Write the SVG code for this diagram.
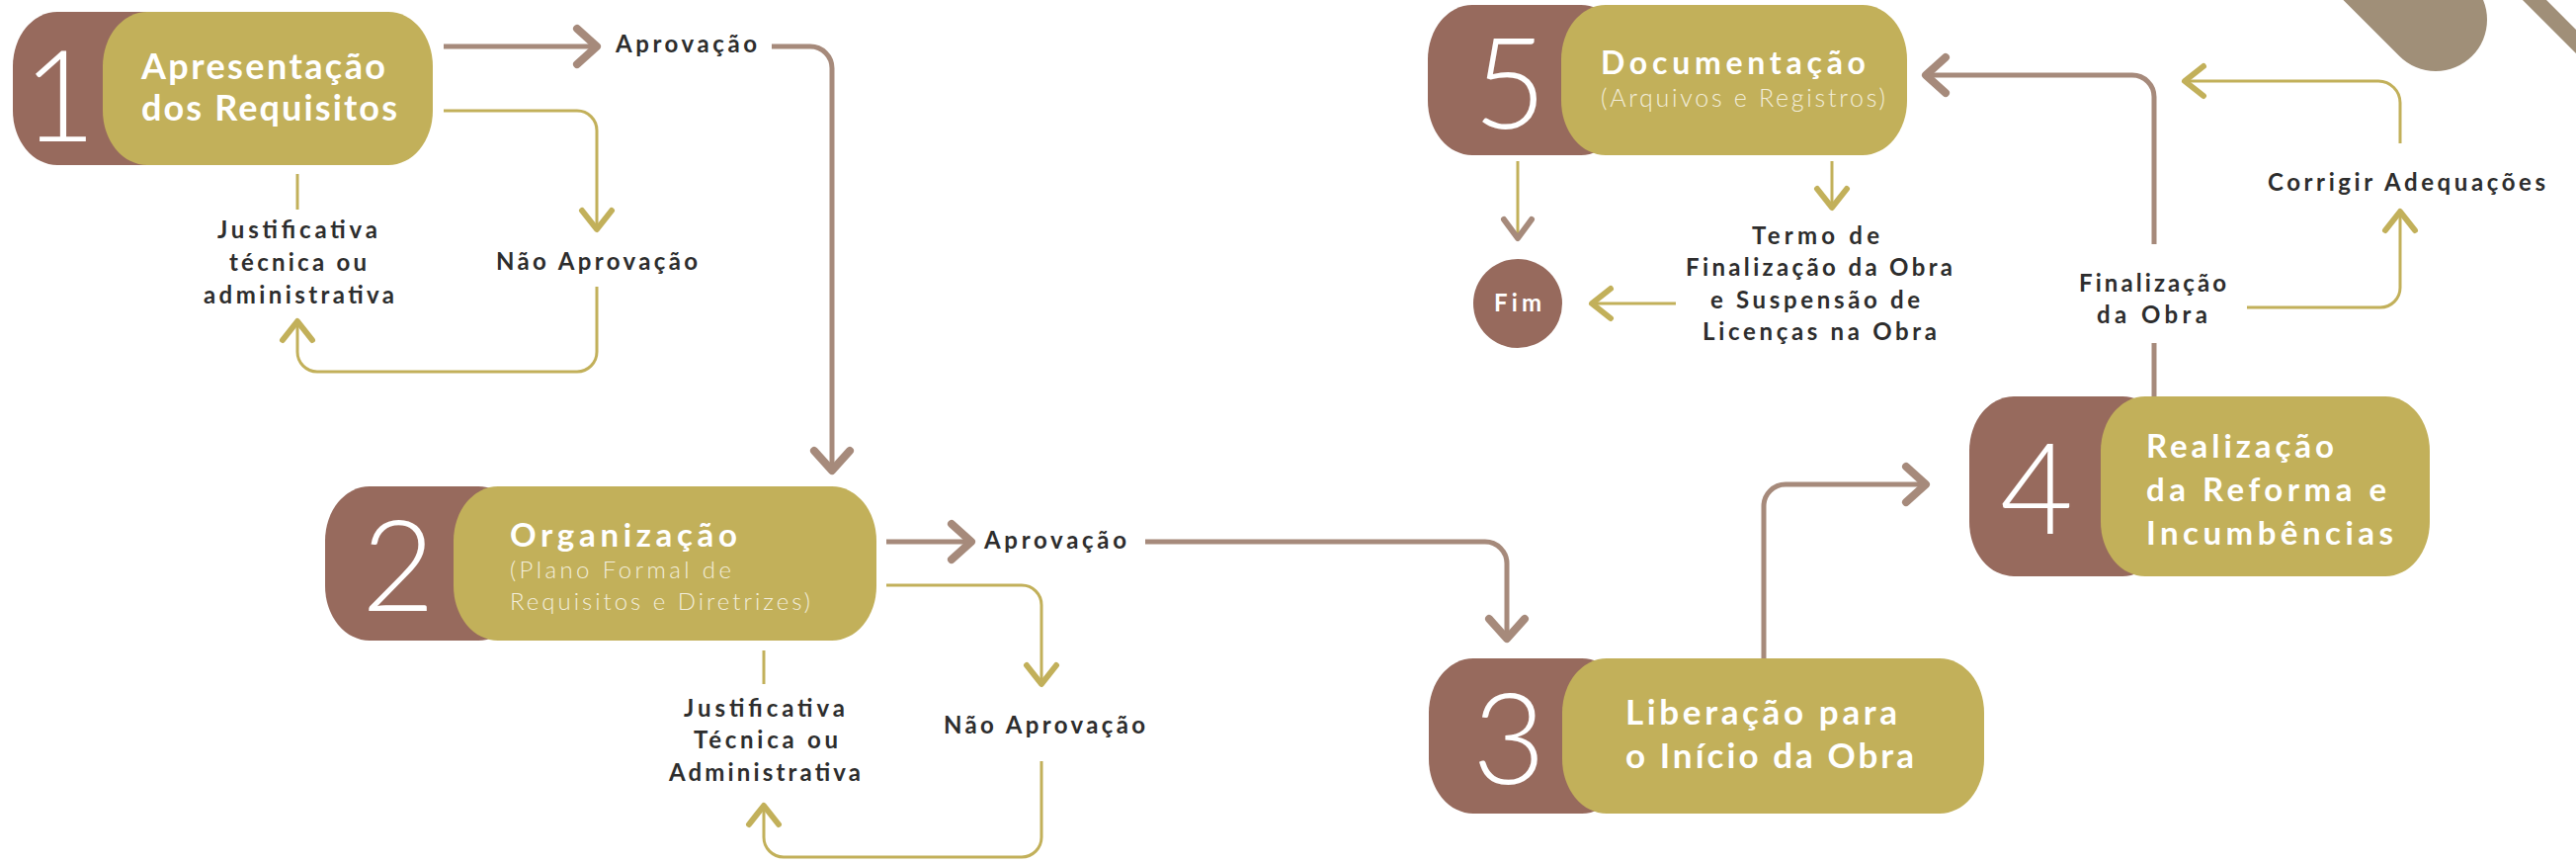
<svg xmlns="http://www.w3.org/2000/svg" width="2607" height="873" viewBox="0 0 2607 873">
<style>
.mar{fill:#976A5D}
.gold{fill:#C2B05A}
.ttl{font-family:Lato,"Open Sans",sans-serif;font-weight:700;fill:#FFFFFF}
.sub{font-family:Lato,"Open Sans",sans-serif;font-weight:300;fill:#F3EEDC}
.dig{font-family:Lato,"Open Sans",sans-serif;font-weight:300;fill:#FFFFFF;font-size:128px;text-anchor:middle}
.lbl{font-family:Lato,"Open Sans",sans-serif;font-weight:700;fill:#2D2D2D;font-size:24px}
.cb{fill:none;stroke:#A68A7B;stroke-width:5}
.cg{fill:none;stroke:#C2B05A;stroke-width:3}
.deco{stroke:#A08F78;stroke-linecap:round}
</style>
<defs>
<marker id="chevB" markerUnits="userSpaceOnUse" viewBox="-30 -30 40 60" markerWidth="40" markerHeight="60" refX="0" refY="0" orient="auto" overflow="visible">
<path d="M-20,-18 L0,0 L-20,18" fill="none" stroke="#A68A7B" stroke-width="8" stroke-linecap="round" stroke-linejoin="round"/>
</marker>
<marker id="chevG" markerUnits="userSpaceOnUse" viewBox="-30 -30 40 60" markerWidth="40" markerHeight="60" refX="0" refY="0" orient="auto" overflow="visible">
<path d="M-19,-15 L0,0 L-19,15" fill="none" stroke="#C2B05A" stroke-width="6" stroke-linecap="round" stroke-linejoin="round"/>
</marker>
<marker id="chevM" markerUnits="userSpaceOnUse" viewBox="-30 -30 40 60" markerWidth="40" markerHeight="60" refX="0" refY="0" orient="auto" overflow="visible">
<path d="M-19,-14 L0,0 L-19,14" fill="none" stroke="#A68A7B" stroke-width="6" stroke-linecap="round" stroke-linejoin="round"/>
</marker>
</defs>
<rect x="0" y="0" width="2607" height="873" fill="#FFFFFF"/>

<g id="decoration">
<line class="deco" x1="2330" y1="-115" x2="2465" y2="20" stroke-width="104"/>
<line class="deco" x1="2540" y1="-25" x2="2660" y2="95" stroke-width="17" stroke-linecap="butt"/>
</g>

<g id="connectors">
<path class="cb" d="M449,47 H604" marker-end="url(#chevB)"/>
<path class="cb" d="M781,47 H820 A22,22 0 0 1 842,69 V476" marker-end="url(#chevB)"/>
<path class="cg" d="M449,112 H584 A20,20 0 0 1 604,132 V232" marker-end="url(#chevG)"/>
<path class="cg" d="M604,290 V356 A20,20 0 0 1 584,376 H321 A20,20 0 0 1 301,356 V325" marker-end="url(#chevG)"/>
<path class="cg" d="M301,176 V212"/>
<path class="cb" d="M897,548 H983" marker-end="url(#chevB)"/>
<path class="cb" d="M1159,548 H1503 A22,22 0 0 1 1525,570 V646" marker-end="url(#chevB)"/>
<path class="cg" d="M897,592 H1034 A20,20 0 0 1 1054,612 V692" marker-end="url(#chevG)"/>
<path class="cg" d="M1054,770 V847 A20,20 0 0 1 1034,867 H793 A20,20 0 0 1 773,847 V815" marker-end="url(#chevG)"/>
<path class="cg" d="M773,658 V692"/>
<path class="cb" d="M1785,666 V512 A22,22 0 0 1 1807,490 H1949" marker-end="url(#chevB)"/>
<path class="cb" d="M2180,401 V347"/>
<path class="cb" d="M2180,247 V98 A22,22 0 0 0 2158,76 H1949" marker-end="url(#chevB)"/>
<path class="cg" d="M2274,311 H2409 A20,20 0 0 0 2429,291 V214" marker-end="url(#chevG)"/>
<path class="cg" d="M2429,145 V104 A22,22 0 0 0 2407,82 H2211" marker-end="url(#chevG)"/>
<path class="cg" d="M1536,163 V241" marker-end="url(#chevM)"/>
<path class="cg" d="M1854,163 V210" marker-end="url(#chevG)"/>
<path class="cg" d="M1696,307 H1611" marker-end="url(#chevG)"/>
<text class="lbl" x="623" y="53" textLength="143" lengthAdjust="spacing">Aprovação</text>
<text class="lbl" x="502" y="273" textLength="204" lengthAdjust="spacing">Não Aprovação</text>
<text class="lbl"><tspan x="220" y="241" textLength="162" lengthAdjust="spacing">Justificativa</tspan><tspan x="232" y="274" textLength="139" lengthAdjust="spacing">técnica ou</tspan><tspan x="206" y="307" textLength="193" lengthAdjust="spacing">administrativa</tspan></text>
<text class="lbl" x="996" y="555" textLength="144" lengthAdjust="spacing">Aprovação</text>
<text class="lbl" x="955" y="742" textLength="204" lengthAdjust="spacing">Não Aprovação</text>
<text class="lbl"><tspan x="692" y="725" textLength="163" lengthAdjust="spacing">Justificativa</tspan><tspan x="702" y="757" textLength="146" lengthAdjust="spacing">Técnica ou</tspan><tspan x="677" y="790" textLength="194" lengthAdjust="spacing">Administrativa</tspan></text>
<text class="lbl"><tspan x="1773" y="247" textLength="129" lengthAdjust="spacing">Termo de</tspan><tspan x="1706" y="279" textLength="270" lengthAdjust="spacing">Finalização da Obra</tspan><tspan x="1731" y="312" textLength="212" lengthAdjust="spacing">e Suspensão de</tspan><tspan x="1723" y="344" textLength="237" lengthAdjust="spacing">Licenças na Obra</tspan></text>
<text class="lbl"><tspan x="2104" y="295" textLength="149" lengthAdjust="spacing">Finalização</tspan><tspan x="2122" y="327" textLength="112" lengthAdjust="spacing">da Obra</tspan></text>
<text class="lbl" x="2295" y="193" textLength="281" lengthAdjust="spacing">Corrigir Adequações</text>
</g>

<g id="node1">
<rect class="mar" x="13" y="12" width="200" height="155" rx="45" ry="55"/>
<rect class="gold" x="104" y="12" width="334" height="155" rx="45" ry="55"/>
<text class="dig" x="60" y="143">1</text>
<text class="ttl" font-size="36"><tspan x="143" y="80" textLength="247" lengthAdjust="spacing">Apresentação</tspan><tspan x="143" y="122" textLength="259" lengthAdjust="spacing">dos Requisitos</tspan></text>
</g>

<g id="node2">
<rect class="mar" x="329" y="492" width="200" height="156" rx="45" ry="55"/>
<rect class="gold" x="459" y="492" width="428" height="156" rx="45" ry="55"/>
<text class="dig" x="403" y="618">2</text>
<text class="ttl" font-size="33" x="516" y="553" textLength="230" lengthAdjust="spacing">Organização</text>
<text class="sub" font-size="24"><tspan x="516" y="585" textLength="224" lengthAdjust="spacing">(Plano Formal de</tspan><tspan x="516" y="617" textLength="304" lengthAdjust="spacing">Requisitos e Diretrizes)</tspan></text>
</g>

<g id="node3">
<rect class="mar" x="1446" y="666" width="200" height="157" rx="45" ry="55"/>
<rect class="gold" x="1581" y="666" width="427" height="157" rx="45" ry="55"/>
<text class="dig" x="1527" y="793">3</text>
<text class="ttl" font-size="35"><tspan x="1645" y="733" textLength="275" lengthAdjust="spacing">Liberação para</tspan><tspan x="1645" y="777" textLength="292" lengthAdjust="spacing">o Início da Obra</tspan></text>
</g>

<g id="node4">
<rect class="mar" x="1993" y="401" width="200" height="182" rx="45" ry="55"/>
<rect class="gold" x="2126" y="401" width="333" height="182" rx="45" ry="55"/>
<text class="dig" x="2061" y="540">4</text>
<text class="ttl" font-size="33"><tspan x="2172" y="463" textLength="190" lengthAdjust="spacing">Realização</tspan><tspan x="2172" y="507" textLength="243" lengthAdjust="spacing">da Reforma e</tspan><tspan x="2172" y="551" textLength="250" lengthAdjust="spacing">Incumbências</tspan></text>
</g>

<g id="node5">
<rect class="mar" x="1445" y="5" width="200" height="152" rx="45" ry="55"/>
<rect class="gold" x="1580" y="5" width="350" height="152" rx="45" ry="55"/>
<text class="dig" x="1528" y="130">5</text>
<text class="ttl" font-size="32" x="1620" y="75" textLength="268" lengthAdjust="spacing">Documentação</text>
<text class="sub" font-size="25" x="1620" y="108" textLength="288" lengthAdjust="spacing">(Arquivos e Registros)</text>
</g>

<g id="fim">
<circle class="mar" cx="1536" cy="307" r="45"/>
<text class="ttl" font-size="24" x="1512" y="315" textLength="48" lengthAdjust="spacing">Fim</text>
</g>
</svg>
